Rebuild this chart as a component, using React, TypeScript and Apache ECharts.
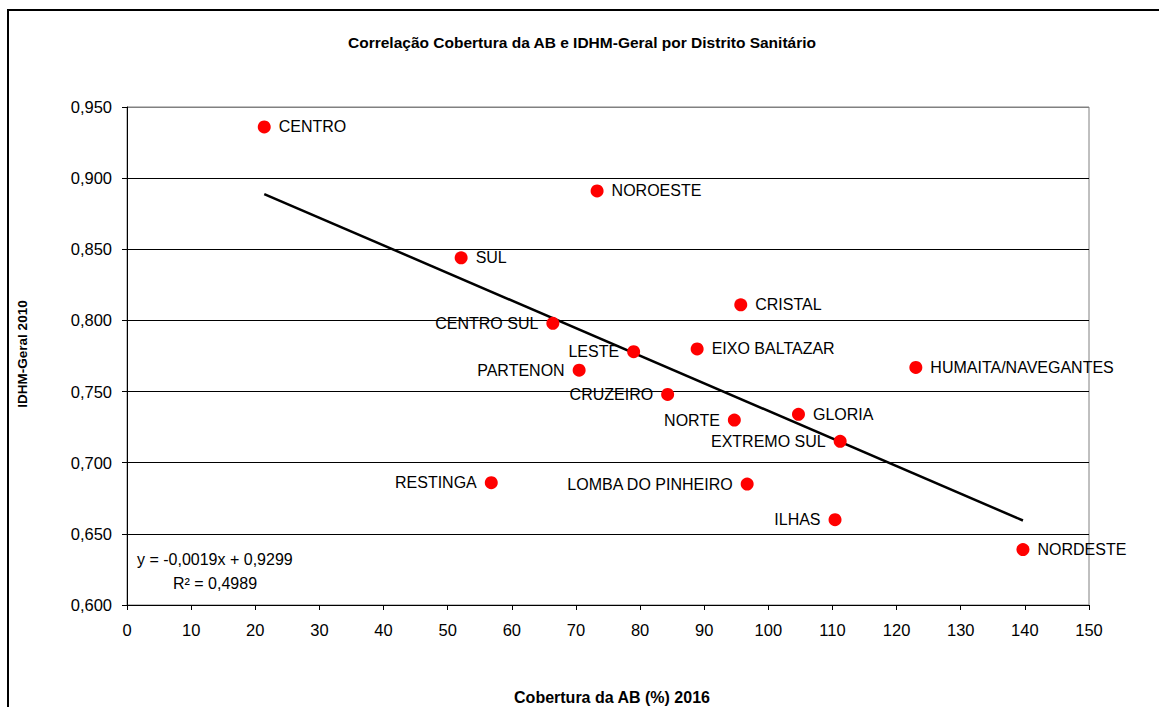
import React, { useEffect, useRef } from "react";
import * as echarts from "echarts";

const districts = [
  "CENTRO", "NOROESTE", "SUL", "CRISTAL", "CENTRO SUL", "LESTE", "EIXO BALTAZAR",
  "PARTENON", "CRUZEIRO", "NORTE", "GLORIA", "HUMAITA/NAVEGANTES", "EXTREMO SUL",
  "RESTINGA", "LOMBA DO PINHEIRO", "ILHAS", "NORDESTE",
];
const cobertura = [21.4, 73.3, 52.1, 95.7, 66.4, 79.0, 88.9, 70.5, 84.3, 94.7, 104.7, 123.0, 111.2, 56.8, 96.7, 110.4, 139.7];
const idhm = [0.936, 0.891, 0.844, 0.811, 0.798, 0.778, 0.780, 0.765, 0.748, 0.730, 0.734, 0.767, 0.715, 0.686, 0.685, 0.660, 0.639];
const labelSide = [
  "right", "right", "right", "right", "left", "left", "right",
  "left", "left", "left", "right", "right", "left",
  "left", "left", "left", "right",
];
const xTicks = { min: 0, max: 150, interval: 10 };
const yTicks = { min: 0.6, max: 0.95, interval: 0.05 };
const title = "Correlação Cobertura da AB e IDHM-Geral por Distrito Sanitário";
const xTitle = "Cobertura da AB (%) 2016";
const yTitle = "IDHM-Geral 2010";
const equation = "y = -0,0019x + 0,9299";
const rSquared = "R² = 0,4989";

const FONT = "'Liberation Sans', Arial, sans-serif";

function regression(xs: number[], ys: number[]) {
  const n = xs.length;
  const mx = xs.reduce((a, b) => a + b, 0) / n;
  const my = ys.reduce((a, b) => a + b, 0) / n;
  let sxy = 0, sxx = 0;
  for (let i = 0; i < n; i++) {
    sxy += (xs[i] - mx) * (ys[i] - my);
    sxx += (xs[i] - mx) * (xs[i] - mx);
  }
  const b = sxy / sxx;
  return { a: my - b * mx, b };
}

export default function App() {
  const ref = useRef<HTMLDivElement>(null);
  useEffect(() => {
    if (!ref.current) return;
    const chart = echarts.init(ref.current, undefined, { renderer: "svg" });
    const { a, b } = regression(cobertura, idhm);
    const xmin = Math.min(...cobertura);
    const xmax = Math.max(...cobertura);
    const splitColors = [];
    const nLines = Math.round((yTicks.max - yTicks.min) / yTicks.interval) + 1;
    for (let i = 0; i < nLines; i++) splitColors.push(i === nLines - 1 ? "#808080" : "#000000");

    chart.setOption({
      animation: false,
      textStyle: { fontFamily: FONT },
      grid: {
        left: 127, top: 107, right: 70, bottom: 102,
        show: true, borderColor: "#808080", borderWidth: 1, backgroundColor: "transparent",
      },
      xAxis: {
        type: "value",
        min: xTicks.min, max: xTicks.max, interval: xTicks.interval,
        axisLine: { show: true, lineStyle: { color: "#000", width: 1 } },
        axisTick: { show: true, inside: false, length: 5, lineStyle: { color: "#000" } },
        axisLabel: { color: "#000", fontSize: 16.5, margin: 16, fontFamily: FONT },
        splitLine: { show: false },
      },
      yAxis: {
        type: "value",
        min: yTicks.min, max: yTicks.max, interval: yTicks.interval,
        axisLine: { show: true, lineStyle: { color: "#000", width: 1 } },
        axisTick: { show: true, inside: false, length: 5, lineStyle: { color: "#000" } },
        axisLabel: {
          color: "#000", fontSize: 16.5, margin: 15, fontFamily: FONT,
          formatter: (v: number) => v.toFixed(3).replace(".", ","),
        },
        splitLine: { show: true, lineStyle: { color: splitColors, width: 1 } },
      },
      series: [
        {
          type: "line",
          data: [[xmin, a + b * xmin], [xmax, a + b * xmax]],
          showSymbol: false,
          symbol: "none",
          lineStyle: { color: "#000", width: 2.5 },
          z: 3,
          silent: true,
        },
        {
          type: "scatter",
          symbol: "circle",
          symbolSize: 13,
          itemStyle: { color: "#FF0000", opacity: 1 },
          z: 4,
          data: districts.map((name, i) => ({
            name,
            value: [cobertura[i], idhm[i]],
            label: { position: labelSide[i] },
          })),
          label: {
            show: true,
            formatter: (p: any) => p.name,
            color: "#000",
            fontSize: 16,
            fontFamily: FONT,
            distance: 8,
          },
        },
      ],
      graphic: [
        {
          type: "rect",
          shape: { x: 8, y: 10, width: 1160, height: 710 },
          style: { fill: "none", stroke: "#000", lineWidth: 2 },
          z: -1,
          silent: true,
        },
        {
          type: "text", x: 582, y: 42,
          style: { text: title, font: `bold 15.5px ${FONT}`, fill: "#000", textAlign: "center", textVerticalAlign: "middle" },
        },
        {
          type: "text", x: 612, y: 697,
          style: { text: xTitle, font: `bold 16px ${FONT}`, fill: "#000", textAlign: "center", textVerticalAlign: "middle" },
        },
        {
          type: "text", x: 22, y: 354, rotation: Math.PI / 2,
          style: { text: yTitle, font: `bold 13.5px ${FONT}`, fill: "#000", textAlign: "center", textVerticalAlign: "middle" },
        },
        {
          type: "text", x: 137, y: 559,
          style: { text: equation, font: `16px ${FONT}`, fill: "#000", textAlign: "left", textVerticalAlign: "middle" },
        },
        {
          type: "text", x: 173, y: 583,
          style: { text: rSquared, font: `16px ${FONT}`, fill: "#000", textAlign: "left", textVerticalAlign: "middle" },
        },
      ],
    });
    return () => chart.dispose();
  }, []);
  return (
    <div
      ref={ref}
      style={{ position: "absolute", left: 0, top: 0, width: 1159, height: 707 }}
    />
  );
}
